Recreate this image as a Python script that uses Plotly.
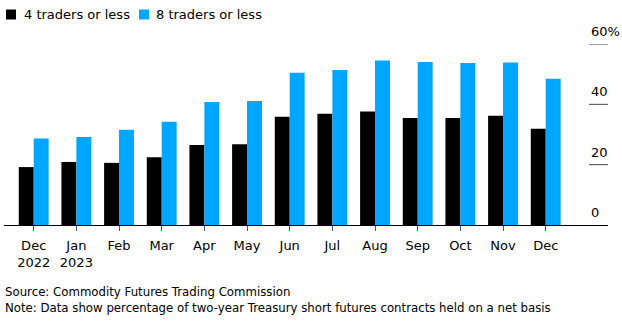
import plotly.graph_objects as go

# Monthly share of two-year Treasury short futures held by the largest traders (%)
months = ["Dec", "Jan", "Feb", "Mar", "Apr", "May", "Jun", "Jul", "Aug", "Sep", "Oct", "Nov", "Dec"]
years = ["2022", "2023", "", "", "", "", "", "", "", "", "", "", ""]
top4 = [19.2, 20.9, 20.6, 22.5, 26.5, 26.8, 35.9, 36.9, 37.6, 35.5, 35.5, 36.2, 31.9]
top8 = [28.7, 29.2, 31.6, 34.2, 40.8, 41.1, 50.5, 51.4, 54.5, 54.0, 53.7, 53.9, 48.5]
series_names = ["4 traders or less", "8 traders or less"]
series_colors = ["#000000", "#00a6ff"]

y_ticks = [0, 20, 40, 60]
y_tick_text = ["0", "20", "40", "60%"]

source_text = "Source: Commodity Futures Trading Commission"
note_text = "Note: Data show percentage of two-year Treasury short futures contracts held on a net basis"

W, H = 622, 323
ML, MR, MT, MB = 4, 14, 44, 98
PW = W - ML - MR
PH = H - MT - MB
FONT = "DejaVu Sans"


def px_x(px):
    """Convert a pixel column to paper x."""
    return (px - ML) / PW


def px_y(py):
    """Convert a pixel row to paper y."""
    return 1 - (py - MT) / PH


x_idx = list(range(len(months)))
tick_text = [m if not y else f"{m}<br>{y}" for m, y in zip(months, years)]

fig = go.Figure()
for name, vals, col in zip(series_names, [top4, top8], series_colors):
    fig.add_trace(go.Bar(x=x_idx, y=vals, name=name, marker=dict(color=col, line=dict(width=0)),
                         showlegend=False))

fig.update_layout(
    width=W, height=H,
    margin=dict(l=ML, r=MR, t=MT, b=MB, pad=0),
    paper_bgcolor="white", plot_bgcolor="white",
    barmode="group", bargap=0.3, bargroupgap=0,
    font=dict(family=FONT, size=13, color="#000000"),
)
fig.update_xaxes(
    range=[-0.696, 13.46], tickmode="array", tickvals=x_idx, ticktext=tick_text,
    showline=True, linecolor="#000000", linewidth=1, ticks="outside", ticklen=5,
    tickcolor="#555555", tickwidth=1, showgrid=False, zeroline=False,
    ticklabelstandoff=3,
    tickfont=dict(family=FONT, size=13, color="#000000"),
)
fig.update_yaxes(range=[0, 60], showgrid=False, zeroline=False, showticklabels=False, visible=False)

# right-hand value scale: short rules with labels sitting on top
for v, t in zip(y_ticks, y_tick_text):
    if v > 0:
        fig.add_shape(type="line", xref="paper", yref="y", x0=px_x(589), x1=px_x(608), y0=v, y1=v,
                      line=dict(color="#444444", width=1))
    fig.add_annotation(xref="paper", yref="y", x=px_x(589), y=v, yshift=12.5, text=t,
                       showarrow=False, xanchor="left", yanchor="middle",
                       font=dict(family=FONT, size=13, color="#000000"))

# legend row
legend_sq = [6, 139]
legend_txt = [21.5, 154]
for name, col, sx, tx in zip(series_names, series_colors, legend_sq, legend_txt):
    fig.add_shape(type="rect", xref="paper", yref="paper", x0=px_x(sx), x1=px_x(sx + 10),
                  y0=px_y(19.5), y1=px_y(9.5), fillcolor=col, line=dict(width=0))
    fig.add_annotation(xref="paper", yref="paper", x=px_x(tx), y=px_y(14.5), text=name,
                       showarrow=False, xanchor="left", yanchor="middle",
                       font=dict(family=FONT, size=13, color="#000000"))

# footer
for txt, cy in [(source_text, 292), (note_text, 308)]:
    fig.add_annotation(xref="paper", yref="paper", x=px_x(3), y=px_y(cy), text=txt,
                       showarrow=False, xanchor="left", yanchor="middle",
                       font=dict(family=FONT, size=11.75, color="#000000"))

fig.write_html("out.html")
